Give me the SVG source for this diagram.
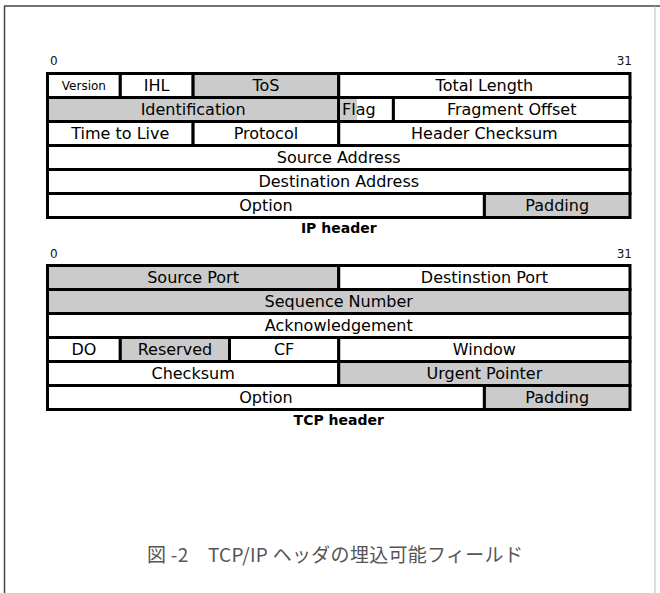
<svg xmlns="http://www.w3.org/2000/svg" width="660" height="593" viewBox="0 0 660 593">
<style>
.c{stroke:#000;stroke-width:3;fill:#fff}
.g{fill:#cbcbcb}
.t{font-family:"DejaVu Sans",sans-serif;font-size:16px;fill:#000;text-anchor:middle}
.s{font-size:12px}
.l{text-anchor:start}
.n{font-family:"DejaVu Sans",sans-serif;font-size:12px;fill:#111}
.h{font-family:"DejaVu Sans",sans-serif;font-size:14px;font-weight:bold;fill:#000;text-anchor:middle}
.cap{font-family:"Noto Sans CJK JP","Noto Sans",sans-serif;font-size:19px;fill:#555;letter-spacing:0.3px}
</style>
<rect width="660" height="593" fill="#fff"/>
<g id="frame">
<line x1="4.5" y1="6" x2="4.5" y2="600" stroke="#444" stroke-width="1.5"/>
<line x1="4" y1="6" x2="660" y2="6" stroke="#444" stroke-width="1.5"/>
<line x1="655" y1="6" x2="655" y2="600" stroke="#bbb" stroke-width="1"/>
</g>
<g id="ip-header">
<text class="n" x="50" y="65">0</text>
<text class="n" x="632" y="65" text-anchor="end">31</text>
<g id="ip-version"><rect class="c" x="47.5" y="73.5" width="72.8" height="24"/><text class="t s" x="83.9" y="89.8">Version</text></g>
<g id="ip-ihl"><rect class="c" x="120.3" y="73.5" width="72.8" height="24"/><text class="t" x="156.7" y="91.3">IHL</text></g>
<g id="ip-tos"><rect class="c g" x="193.1" y="73.5" width="145.65" height="24"/><text class="t" x="265.9" y="91.3">ToS</text></g>
<g id="ip-total-length"><rect class="c" x="338.75" y="73.5" width="291.25" height="24"/><text class="t" x="484.4" y="91.3">Total Length</text></g>
<g id="ip-identification"><rect class="c g" x="47.5" y="97.5" width="291.25" height="24"/><text class="t" x="193.1" y="115.3">Identification</text></g>
<g id="ip-flag"><rect class="c" x="338.75" y="97.5" width="54.65" height="24"/><rect class="g" x="340.3" y="99" width="16.7" height="21"/><text class="t l" x="342" y="115.3">Flag</text></g>
<g id="ip-fragment-offset"><rect class="c" x="393.4" y="97.5" width="236.6" height="24"/><text class="t" x="511.7" y="115.3">Fragment Offset</text></g>
<g id="ip-ttl"><rect class="c" x="47.5" y="121.5" width="145.6" height="24"/><text class="t" x="120.3" y="139.3">Time to Live</text></g>
<g id="ip-protocol"><rect class="c" x="193.1" y="121.5" width="145.65" height="24"/><text class="t" x="265.9" y="139.3">Protocol</text></g>
<g id="ip-header-checksum"><rect class="c" x="338.75" y="121.5" width="291.25" height="24"/><text class="t" x="484.4" y="139.3">Header Checksum</text></g>
<g id="ip-source-address"><rect class="c" x="47.5" y="145.5" width="582.5" height="24"/><text class="t" x="338.75" y="163.3">Source Address</text></g>
<g id="ip-destination-address"><rect class="c" x="47.5" y="169.5" width="582.5" height="24"/><text class="t" x="338.75" y="187.3">Destination Address</text></g>
<g id="ip-option"><rect class="c" x="47.5" y="193.5" width="436.9" height="24"/><text class="t" x="265.9" y="211.3">Option</text></g>
<g id="ip-padding"><rect class="c g" x="484.4" y="193.5" width="145.6" height="24"/><text class="t" x="557.2" y="211.3">Padding</text></g>
<text class="h" x="338.75" y="233">IP header</text>
</g>
<g id="tcp-header">
<text class="n" x="50" y="258">0</text>
<text class="n" x="632" y="258" text-anchor="end">31</text>
<g id="tcp-source-port"><rect class="c g" x="47.5" y="265.5" width="291.25" height="24"/><text class="t" x="193.1" y="283.3">Source Port</text></g>
<g id="tcp-destination-port"><rect class="c" x="338.75" y="265.5" width="291.25" height="24"/><text class="t" x="484.4" y="283.3">Destinstion Port</text></g>
<g id="tcp-sequence-number"><rect class="c g" x="47.5" y="289.5" width="582.5" height="24"/><text class="t" x="338.75" y="307.3">Sequence Number</text></g>
<g id="tcp-acknowledgement"><rect class="c" x="47.5" y="313.5" width="582.5" height="24"/><text class="t" x="338.75" y="331.3">Acknowledgement</text></g>
<g id="tcp-do"><rect class="c" x="47.5" y="337.5" width="72.8" height="24"/><text class="t" x="83.9" y="355.3">DO</text></g>
<g id="tcp-reserved"><rect class="c g" x="120.3" y="337.5" width="109.2" height="24"/><text class="t" x="174.9" y="355.3">Reserved</text></g>
<g id="tcp-cf"><rect class="c" x="229.5" y="337.5" width="109.25" height="24"/><text class="t" x="284.1" y="355.3">CF</text></g>
<g id="tcp-window"><rect class="c" x="338.75" y="337.5" width="291.25" height="24"/><text class="t" x="484.4" y="355.3">Window</text></g>
<g id="tcp-checksum"><rect class="c" x="47.5" y="361.5" width="291.25" height="24"/><text class="t" x="193.1" y="379.3">Checksum</text></g>
<g id="tcp-urgent-pointer"><rect class="c g" x="338.75" y="361.5" width="291.25" height="24"/><text class="t" x="484.4" y="379.3">Urgent Pointer</text></g>
<g id="tcp-option"><rect class="c" x="47.5" y="385.5" width="436.9" height="24"/><text class="t" x="265.9" y="403.3">Option</text></g>
<g id="tcp-padding"><rect class="c g" x="484.4" y="385.5" width="145.6" height="24"/><text class="t" x="557.2" y="403.3">Padding</text></g>
<text class="h" x="338.75" y="425">TCP header</text>
</g>
<g id="caption">
<text class="cap" x="147" y="562">図 -2　TCP/IP ヘッダの埋込可能フィールド</text>
</g>
</svg>
